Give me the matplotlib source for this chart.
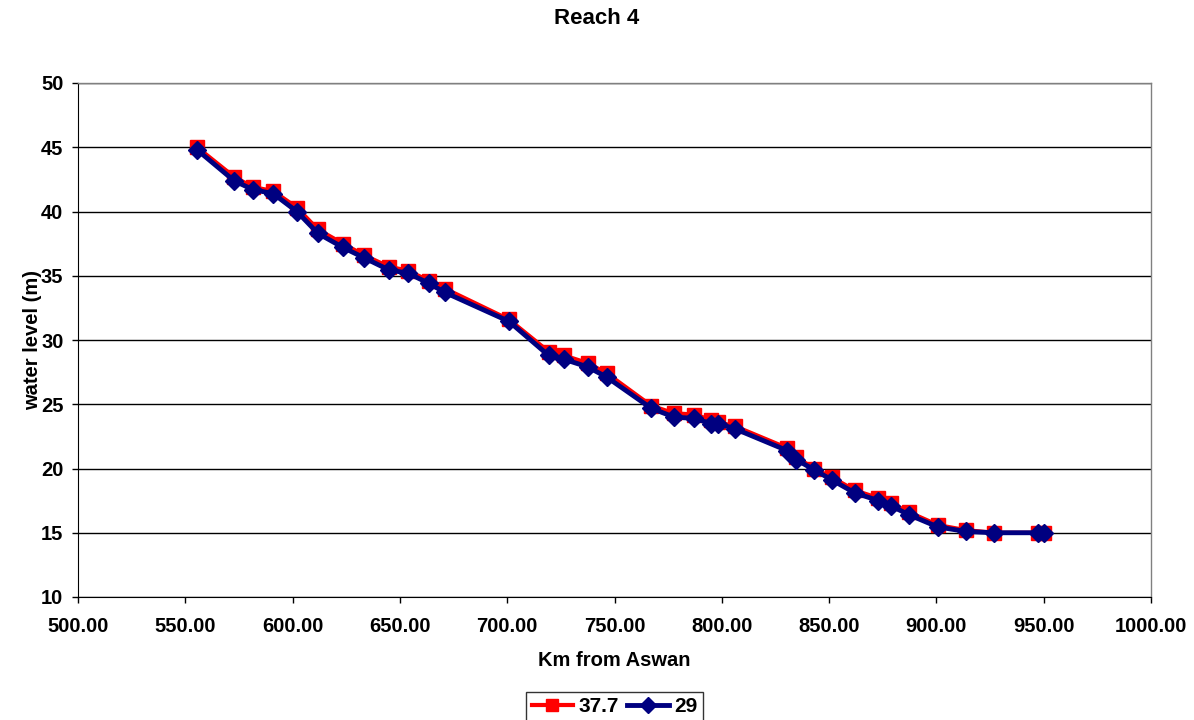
import matplotlib
matplotlib.use("Agg")
import matplotlib.pyplot as plt
from matplotlib.ticker import FormatStrFormatter, MultipleLocator

plt.rcParams['font.family'] = ['Liberation Sans', 'DejaVu Sans']
plt.rcParams['font.weight'] = 'bold'

km = [555.5, 572.7, 581.5, 590.9, 602.0, 611.8, 623.5, 633.3, 644.9, 653.8,
      663.6, 671.0, 700.8, 719.3, 726.5, 737.6, 746.5, 767.0, 777.7, 787.0,
      795.0, 798.2, 806.0, 830.4, 834.6, 843.0, 851.4, 862.0, 873.0, 878.8,
      887.2, 900.7, 913.8, 926.8, 947.3, 950.1]

wl_37_7 = [45.0, 42.7, 41.9, 41.6, 40.3, 38.6, 37.5, 36.6, 35.7, 35.4,
           34.6, 34.0, 31.6, 29.1, 28.8, 28.2, 27.4, 24.9, 24.3, 24.2,
           23.8, 23.6, 23.3, 21.6, 20.9, 20.0, 19.3, 18.3, 17.7, 17.3,
           16.6, 15.6, 15.2, 15.0, 15.0, 15.0]

wl_29 = [44.8, 42.4, 41.7, 41.4, 40.0, 38.3, 37.2, 36.4, 35.45, 35.2,
         34.4, 33.7, 31.45, 28.8, 28.5, 27.9, 27.1, 24.7, 24.0, 23.9,
         23.5, 23.5, 23.1, 21.4, 20.7, 19.9, 19.1, 18.1, 17.5, 17.1,
         16.4, 15.45, 15.1, 15.0, 15.0, 15.0]

series_labels = ["37.7", "29"]

fig = plt.figure(figsize=(11.94, 7.2), dpi=100)
ax = fig.add_axes([78/1194, 1 - 597/720, (1151-78)/1194, (597-83)/720])

ax.plot(km, wl_37_7, color='#ff0000', lw=3, marker='s', ms=9.5,
        markeredgecolor='#ff0000', label=series_labels[0], zorder=3)
ax.plot(km, wl_29, color='#000080', lw=3.5, marker='D', ms=9,
        markeredgecolor='#000080', label=series_labels[1], zorder=4)

ax.set_xlim(500, 1000)
ax.set_ylim(10, 50)
ax.xaxis.set_major_locator(MultipleLocator(50))
ax.yaxis.set_major_locator(MultipleLocator(5))
ax.xaxis.set_major_formatter(FormatStrFormatter('%.2f'))
ax.grid(axis='y', color='black', lw=1)
ax.set_axisbelow(True)
for s in ['top', 'right']:
    ax.spines[s].set_color('#808080')
    ax.spines[s].set_linewidth(1)
for s in ['left', 'bottom']:
    ax.spines[s].set_color('black')
ax.tick_params(axis='both', direction='out', length=4.5, labelsize=14.5, width=1)
ax.tick_params(axis='x', pad=10)
ax.tick_params(axis='y', pad=6)
for lab in ax.get_xticklabels() + ax.get_yticklabels():
    lab.set_fontweight('bold')

ax.set_xlabel('Km from Aswan', fontsize=14.5, fontweight='bold')
ax.set_ylabel('water level (m)', fontsize=14.5, fontweight='bold')
ax.xaxis.set_label_coords(0.5, (597 - 660) / 514)
ax.xaxis.label.set_va('center')
ax.yaxis.set_label_coords((33 - 78) / 1073, 0.5)
ax.yaxis.label.set_va('center')
fig.text(0.5, 1 - 19/720, 'Reach 4', ha='center', va='center',
         fontsize=16, fontweight='bold')

leg = ax.legend(loc='upper center', bbox_to_anchor=(0.5, (597 - 692) / 514),
                ncol=2, frameon=True, fancybox=False, edgecolor='black',
                fontsize=15, handlelength=2.0, handletextpad=0.25,
                columnspacing=0.4, borderpad=0.25, borderaxespad=0,
                markerscale=0.9)
leg.get_frame().set_linewidth(1)
for t in leg.get_texts():
    t.set_fontweight('bold')

fig.savefig('out.png', dpi=100)
